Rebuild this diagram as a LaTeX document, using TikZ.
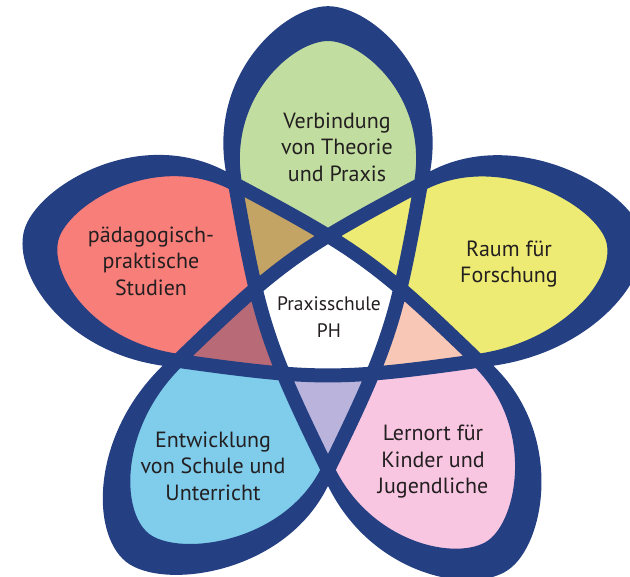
\documentclass[tikz,border=0pt]{standalone}
\usepackage{fontspec}
\setmainfont{PT Sans}
\definecolor{navy}{RGB}{36,63,130}
\definecolor{gruen}{RGB}{194,221,160}
\definecolor{gelb}{RGB}{237,235,115}
\definecolor{rosa}{RGB}{249,198,226}
\definecolor{blau}{RGB}{127,204,235}
\definecolor{rot}{RGB}{248,126,122}
\definecolor{braun}{RGB}{196,164,100}
\definecolor{pfirsich}{RGB}{249,199,181}
\definecolor{lila}{RGB}{186,180,220}
\definecolor{mauve}{RGB}{185,106,119}
\definecolor{schrift}{RGB}{35,31,32}
% one closed line: five loops, joined by chords through the middle
\newcommand\starcurve{(54:158)
  \foreach \k/\dw/\rt in {0/0/278, 1/-1/286, 2/3/286, 3/-4/294, 4/-3/292}{
    .. controls ({63.38+216*\k}:242.1) and ({81.81+216*\k+\dw}:{1.0104*\rt}) .. ({90+216*\k+\dw}:\rt)
    .. controls ({98.19+216*\k+\dw}:{1.0104*\rt}) and ({116.62+216*\k}:242.1) .. ({126+216*\k}:158)
    .. controls ({188.2+216*\k}:69.3) and ({207.6+216*\k}:69.3) .. ({270+216*\k}:158)}}

\begin{document}
\begin{tikzpicture}[x=1pt,y=1pt]
    \tikzstyle{petaltext} = [text=schrift, align=center, font=\fontsize{22}{26.5}\selectfont]
    \tikzstyle{midtext} = [text=schrift, align=center, font=\fontsize{19.5}{27}\selectfont]
    \tikzstyle{band} = [navy, line width=14pt, line join=round]
    \useasboundingbox (-328,-265) rectangle (302,312);
    % outer border
    \fill[navy, scale=1.1] \starcurve;
    % overlaps
    \begin{scope}
        \clip \starcurve;
        \foreach \a/\c in {126/braun, 54/gelb, -18/pfirsich, -90/lila, 198/mauve}
            \fill[\c] (0,0) -- ({\a-36}:400) -- (\a:500) -- ({\a+36}:400) -- cycle;
    \end{scope}
    % petals
    \begin{scope}[even odd rule]
        \clip \starcurve;
        \foreach \a/\c in {90/gruen, 18/gelb, -54/rosa, -126/blau, 162/rot}
            \fill[\c] (0,0) -- ({\a-36}:600) -- ({\a+36}:600) -- cycle;
        \fill[white] (0,0) circle (82);
    \end{scope}
    \draw[band] \starcurve;
    % Nodes
    \node (theorie) [petaltext] at (9,165) {Verbindung\\von Theorie\\und Praxis};
    \node (forschung) [petaltext] at (181,48) {Raum für\\Forschung};
    \node (lernort) [petaltext] at (105,-150) {Lernort für\\Kinder und\\Jugendliche};
    \node (entwicklung) [petaltext] at (-115,-154) {Entwicklung\\von Schule und\\Unterricht};
    \node (studien) [petaltext] at (-177,51) {pädagogisch-\\praktische\\Studien};
    \node (praxis) [midtext] at (1,-5) {Praxisschule\\PH};
\end{tikzpicture}
\end{document}
